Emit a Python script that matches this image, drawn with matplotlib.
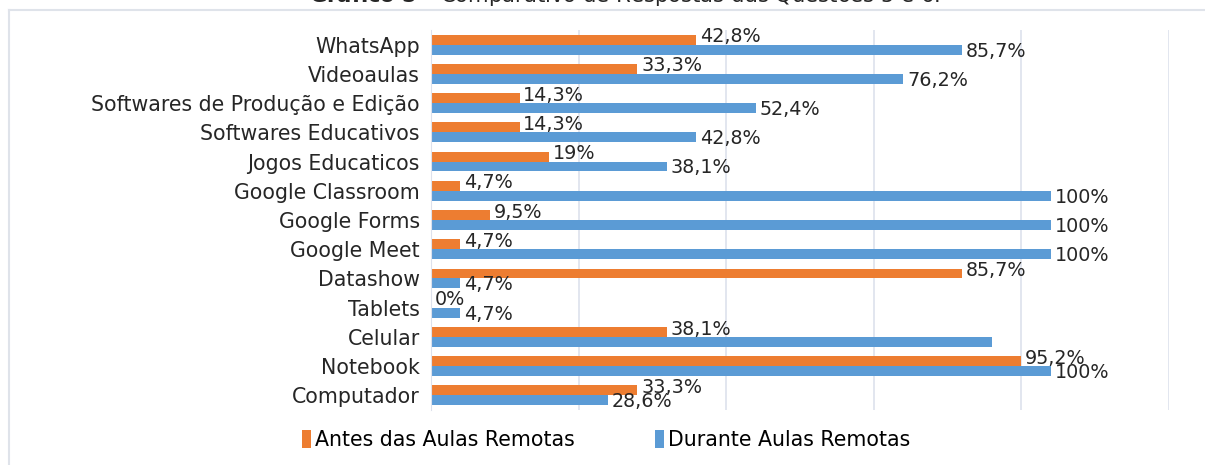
import matplotlib.pyplot as plt
import numpy as np

categories = ["WhatsApp", "Videoaulas", "Softwares de Produção e Edição",
              "Softwares Educativos", "Jogos Educaticos", "Google Classroom",
              "Google Forms", "Google Meet", "Datashow", "Tablets", "Celular",
              "Notebook", "Computador"]
antes = [42.8, 33.3, 14.3, 14.3, 19, 4.7, 9.5, 4.7, 85.7, 0, 38.1, 95.2, 33.3]
durante = [85.7, 76.2, 52.4, 42.8, 38.1, 100, 100, 100, 4.7, 4.7, 90.5, 100, 28.6]
antes_labels = ["42,8%", "33,3%", "14,3%", "14,3%", "19%", "4,7%", "9,5%", "4,7%",
                "85,7%", "0%", "38,1%", "95,2%", "33,3%"]
durante_labels = ["85,7%", "76,2%", "52,4%", "42,8%", "38,1%", "100%", "100%", "100%",
                  "4,7%", "4,7%", "", "100%", "28,6%"]
n_resp = 21  # axis runs 0..25 respondents, gridlines every 5

orange = "#ED7D31"
blue = "#5B9BD5"
txt = "#262626"

fig = plt.figure(figsize=(12.05, 4.65), dpi=100)
ax = fig.add_axes([431 / 1205, 1 - 410 / 465, (1169 - 431) / 1205, (410 - 30) / 465])

y = np.arange(len(categories))
h = 0.34
ax.barh(y - h / 2, antes, height=h, color=orange, label="Antes das Aulas Remotas")
ax.barh(y + h / 2, durante, height=h, color=blue, label="Durante Aulas Remotas")

for i in range(len(categories)):
    ax.text(antes[i] + 0.6, y[i] - h / 2 - 0.1, antes_labels[i], va="center",
            ha="left", fontsize=13.8, family="DejaVu Sans", color=txt)
    if durante_labels[i]:
        ax.text(durante[i] + 0.6, y[i] + h / 2 + 0.05, durante_labels[i], va="center",
                ha="left", fontsize=13.8, family="DejaVu Sans", color=txt)

step = 100 / n_resp
ax.set_xlim(0, 25 * step)
ax.set_ylim(len(categories) - 0.5, -0.5)
ax.set_xticks(np.arange(0, 26, 5) * step)
ax.tick_params(axis="x", length=0, labelbottom=False)
ax.tick_params(axis="y", length=0, pad=8)
ax.set_yticks(y)
ax.set_yticklabels(categories, fontsize=14.8, family="DejaVu Sans", color=txt)
ax.grid(axis="x", color="#DDE1EC", linewidth=1.2)
ax.set_axisbelow(True)
for s in ["top", "right", "bottom"]:
    ax.spines[s].set_visible(False)
ax.spines["left"].set_color("#DDE1EC")

ax.legend(loc="center", bbox_to_anchor=(606 / 1205, 1 - 440 / 465),
          bbox_transform=fig.transFigure, ncol=2, frameon=False,
          prop={"family": "DejaVu Sans", "size": 14.8}, handlelength=0.45,
          handleheight=1.0, handletextpad=0.2, columnspacing=3.9)

# outer frame
fig.add_artist(plt.Line2D([9 / 1205, 9 / 1205], [0, 1 - 10 / 465],
                          transform=fig.transFigure, color="#DFE3EA", lw=1.5))
fig.add_artist(plt.Line2D([9 / 1205, 1], [1 - 10 / 465, 1 - 10 / 465],
                          transform=fig.transFigure, color="#DFE3EA", lw=1.5))

# title, cut off at the top of the image
fig.text(0.518, 1 + 5 / 465, r"$\bf{Gráfico\ 5}$ – Comparativo de Respostas das Questões 5 e 6.",
         ha="center", va="center", fontsize=15.2, family="DejaVu Sans", color=txt)

fig.savefig("out.png", dpi=100)
